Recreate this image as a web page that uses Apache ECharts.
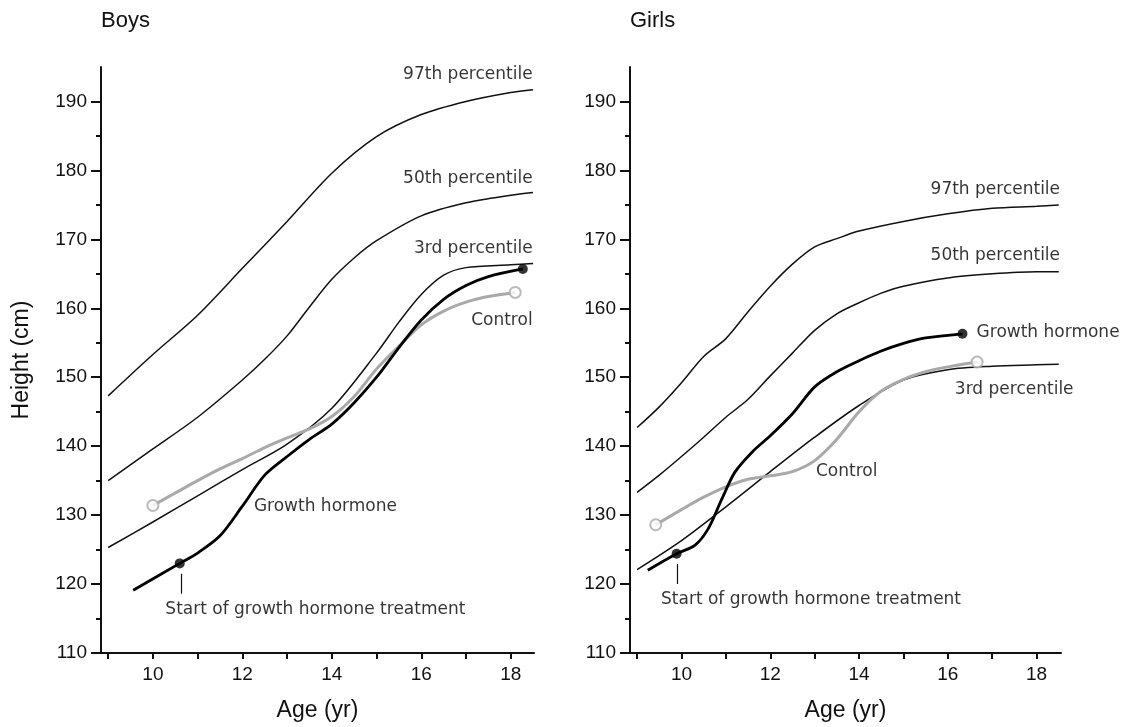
<!DOCTYPE html>
<html style="height: 100%;">
<head>
    <meta charset="utf-8">
    <title>Height growth charts</title>
    <script src="https://cdn.jsdelivr.net/npm/echarts@6.0.0/dist/echarts.min.js"></script>
    <style>
        html, body { height: 100%; margin: 0; padding: 0; background: #fff; }
        #main { width: 1131px; height: 727px; }
    </style>
</head>
<body>
    <div id="main"></div>
    <script type="text/javascript">
        // ---- data: [age, height] pairs ----
        var boysP97 = [[9, 147.3], [10, 153.3], [11, 159], [12, 165.8], [13, 172.6], [14, 179.6], [15, 184.9], [16, 188.1], [17, 190], [18, 191.3], [18.5, 191.7]];
        var boysP50 = [[9, 135], [10, 139.6], [11, 144.2], [12, 149.6], [12.5, 152.6], [13, 156], [13.5, 160.2], [14, 164.2], [14.5, 167.3], [15, 169.8], [16, 173.4], [17, 175.3], [18, 176.4], [18.5, 176.8]];
        var boysP3 = [[9, 125.3], [10, 129], [11, 132.8], [12, 136.6], [13, 140.3], [14, 145.5], [15, 153.5], [15.5, 158], [16, 162], [16.5, 164.8], [17, 165.9], [18, 166.3], [18.5, 166.5]];
        var boysGH = [[9.56, 119.1], [10.6, 123], [11, 124.5], [11.5, 127], [12, 131.3], [12.5, 135.8], [13, 138.5], [13.5, 141], [14, 143.2], [14.5, 146.3], [15, 150], [15.5, 154.3], [16, 158.3], [16.5, 161.3], [17, 163.3], [17.5, 164.6], [18.27, 165.7]];
        var boysControl = [[10, 131.4], [10.5, 133.2], [11, 135], [11.5, 136.7], [12, 138.2], [12.5, 139.8], [13, 141.2], [13.5, 142.5], [14, 144.3], [14.5, 147.2], [15, 151.2], [15.5, 154.5], [16, 157.6], [16.5, 159.6], [17, 160.9], [17.5, 161.7], [18.1, 162.3]];
        var boysStartTick = [[10.64, 121.5], [10.64, 118.6]];

        var girlsP97 = [[9, 142.7], [9.5, 145.7], [10, 149.2], [10.5, 153], [11, 155.6], [11.5, 159.5], [12, 163.2], [12.5, 166.4], [13, 168.9], [13.5, 170.1], [14, 171.2], [15, 172.6], [16, 173.7], [17, 174.5], [18, 174.8], [18.5, 175]];
        var girlsP50 = [[9, 133.3], [9.5, 135.8], [10, 138.5], [10.5, 141.3], [11, 144.2], [11.5, 146.8], [12, 150.2], [12.5, 153.5], [13, 156.8], [13.5, 159.2], [14, 160.8], [14.5, 162.2], [15, 163.2], [16, 164.4], [17, 165], [18, 165.3], [18.5, 165.3]];
        var girlsP3 = [[9, 122.1], [10, 126.3], [11, 131.2], [12, 136.3], [13, 141.3], [14, 145.9], [15, 149.6], [16, 151.1], [17, 151.6], [18, 151.8], [18.5, 151.9]];
        var girlsGH = [[9.24, 122], [9.89, 124.4], [10.3, 125.6], [10.6, 128], [10.9, 132.2], [11.2, 136.2], [11.6, 139.2], [12, 141.5], [12.5, 144.7], [13, 148.6], [13.5, 150.8], [14, 152.4], [14.5, 153.8], [15, 154.9], [15.5, 155.7], [16.33, 156.3]];
        var girlsControl = [[9.42, 128.6], [10, 130.8], [10.5, 132.6], [11, 134.1], [11.5, 135.2], [12, 135.7], [12.5, 136.3], [13, 137.9], [13.5, 141], [14, 145], [14.5, 148], [15, 149.7], [15.5, 150.8], [16, 151.5], [16.66, 152.2]];
        var girlsStartTick = [[9.91, 122.9], [9.91, 120.0]];

        // tick labels
        var ageTicks = [9, 10, 11, 12, 13, 14, 15, 16, 17, 18];
        var ageLabels = [10, 12, 14, 16, 18];
        var heightLabels = [110, 120, 130, 140, 150, 160, 170, 180, 190];
        var heightMinor = [115, 125, 135, 145, 155, 165, 175, 185];

        // annotation texts: [age, height, text, align]
        var boysNotes = [
            [18.5, 193.8, '97th percentile', 'right'],
            [18.5, 178.7, '50th percentile', 'right'],
            [18.5, 168.6, '3rd percentile', 'right'],
            [18.5, 158.1, 'Control', 'right'],
            [12.27, 131.2, 'Growth hormone', 'left'],
            [10.29, 116.2, 'Start of growth hormone treatment', 'left']
        ];
        var girlsNotes = [
            [18.54, 177.2, '97th percentile', 'right'],
            [18.54, 167.6, '50th percentile', 'right'],
            [16.66, 156.4, 'Growth hormone', 'left'],
            [16.17, 148.2, '3rd percentile', 'left'],
            [13.04, 136.3, 'Control', 'left'],
            [9.55, 117.7, 'Start of growth hormone treatment', 'left']
        ];

        var myChart = echarts.init(document.getElementById('main'));

        var ink = '#111';
        var grey = '#a9a9a9';
        var tickFont = 'Liberation Sans, Arial, sans-serif';
        var noteFont = 'DejaVu Sans, sans-serif';

        function xAxisFor(g, max) {
            return {
                gridIndex: g, type: 'value', min: 8.84, max: max,
                name: 'Age (yr)', nameLocation: 'middle', nameGap: 46,
                nameTextStyle: { fontSize: 23, color: ink, fontFamily: tickFont },
                axisLine: { lineStyle: { color: ink, width: 2 } },
                axisTick: { customValues: ageTicks, length: 6, lineStyle: { color: ink, width: 2 } },
                axisLabel: { customValues: ageLabels, fontSize: 19, color: ink, fontFamily: tickFont, margin: 12 },
                splitLine: { show: false }
            };
        }

        function yAxesFor(g, withName) {
            return [{
                gridIndex: g, type: 'value', min: 110, max: 195, position: 'left',
                name: withName ? 'Height (cm)' : '', nameLocation: 'middle', nameGap: 68,
                nameTextStyle: { fontSize: 23, color: ink, fontFamily: tickFont },
                axisLine: { show: true, lineStyle: { color: ink, width: 2 } },
                axisTick: { show: true, customValues: heightLabels, length: 10, lineStyle: { color: ink, width: 2 } },
                axisLabel: { customValues: heightLabels, fontSize: 19, color: ink, fontFamily: tickFont, margin: 14 },
                splitLine: { show: false }
            }, {
                gridIndex: g, type: 'value', min: 110, max: 195, position: 'left',
                axisLine: { show: false },
                axisTick: { show: true, customValues: heightMinor, length: 5, lineStyle: { color: ink, width: 2 } },
                axisLabel: { show: false },
                splitLine: { show: false }
            }];
        }

        function curve(data, g, color, width) {
            return {
                type: 'line', xAxisIndex: g, yAxisIndex: g * 2, data: data,
                smooth: 0.3, symbol: 'none',
                lineStyle: { color: color, width: width }, silent: true
            };
        }

        function dots(data, g, filled) {
            return {
                type: 'scatter', xAxisIndex: g, yAxisIndex: g * 2, data: data,
                symbol: 'circle', symbolSize: filled ? 10 : 11, z: 5, silent: true,
                itemStyle: filled ? { color: '#000' } : { color: '#fff', borderColor: grey, borderWidth: 2 }
            };
        }

        function notes(list, g) {
            return {
                type: 'scatter', xAxisIndex: g, yAxisIndex: g * 2, symbolSize: 1, silent: true,
                itemStyle: { color: 'rgba(0,0,0,0)' },
                data: list.map(function (n) {
                    return {
                        value: [n[0], n[1]],
                        label: {
                            show: true, position: [0, 0], formatter: n[2], align: n[3], verticalAlign: 'middle',
                            fontSize: 17, color: '#000', fontFamily: noteFont
                        }
                    };
                })
            };
        }

        function panel(g, p97, p50, p3, control, gh, tick, gDots, cDots, noteList) {
            return [
                curve(p97, g, ink, 1.5),
                curve(p50, g, ink, 1.5),
                curve(p3, g, ink, 1.5),
                curve(control, g, grey, 3),
                curve(gh, g, '#000', 2.8),
                { type: 'line', xAxisIndex: g, yAxisIndex: g * 2, data: tick, symbol: 'none', lineStyle: { color: ink, width: 1.2 }, silent: true },
                dots(cDots, g, false),
                dots(gDots, g, true),
                notes(noteList, g)
            ];
        }

        var option = {
            animation: false,
            title: [
                { text: 'Boys', left: 101, top: 10, padding: 0, textStyle: { fontSize: 22, fontWeight: 'normal', color: ink, fontFamily: tickFont } },
                { text: 'Girls', left: 630, top: 10, padding: 0, textStyle: { fontSize: 22, fontWeight: 'normal', color: ink, fontFamily: tickFont } }
            ],
            grid: [
                { left: 101, top: 67, width: 433, height: 586 },
                { left: 630, top: 67, width: 431, height: 586 }
            ],
            xAxis: [xAxisFor(0, 18.52), xAxisFor(1, 18.55)],
            yAxis: yAxesFor(0, true).concat(yAxesFor(1, false)),
            series: panel(0, boysP97, boysP50, boysP3, boysControl, boysGH, boysStartTick,
                    [boysGH[1], boysGH[boysGH.length - 1]],
                    [boysControl[0], boysControl[boysControl.length - 1]], boysNotes)
                .concat(panel(1, girlsP97, girlsP50, girlsP3, girlsControl, girlsGH, girlsStartTick,
                    [girlsGH[1], girlsGH[girlsGH.length - 1]],
                    [girlsControl[0], girlsControl[girlsControl.length - 1]], girlsNotes))
        };

        myChart.setOption(option);
    </script>
</body>
</html>
